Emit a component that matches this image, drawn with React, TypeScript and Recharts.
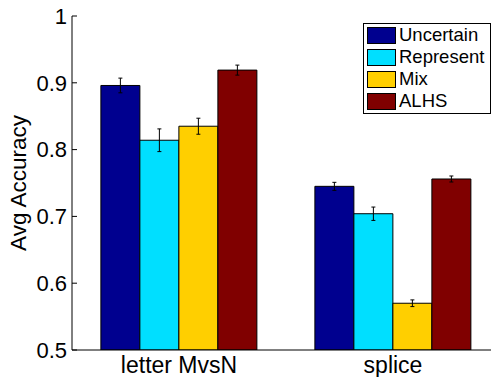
import React from "react";
import {
  BarChart, Bar, XAxis, YAxis, ErrorBar, Legend,
} from "recharts";

// values
const categories = ["letter MvsN", "splice"];
const seriesNames = ["Uncertain", "Represent", "Mix", "ALHS"];
const seriesColors = ["#00008F", "#00DFFF", "#FFCF00", "#800000"];

const uncertain = [0.896, 0.745];
const uncertainErr = [0.011, 0.006];
const represent = [0.814, 0.704];
const representErr = [0.017, 0.01];
const mix = [0.835, 0.57];
const mixErr = [0.012, 0.005];
const alhs = [0.919, 0.756];
const alhsErr = [0.0075, 0.0045];

const yTicks = [0.5, 0.6, 0.7, 0.8, 0.9, 1];

const FONT = '"Liberation Sans", Arial, Helvetica, sans-serif';

const data = categories.map((name, i) => ({
  name,
  s0: uncertain[i], e0: uncertainErr[i],
  s1: represent[i], e1: representErr[i],
  s2: mix[i], e2: mixErr[i],
  s3: alhs[i], e3: alhsErr[i],
}));

// matlab style: label outside, tick line pointing into the plot
function LeftTick({ x, y, payload }: any) {
  return (
    <g>
      <line x1={x} y1={y} x2={x + 5} y2={y} stroke="#000" />
      <text x={x - 5} y={y} dy="0.355em" textAnchor="end" fontSize={22} fontFamily={FONT} fill="#000">
        {String(payload.value)}
      </text>
    </g>
  );
}

function NoTick() {
  return <g />;
}

function YLabel({ viewBox }: any) {
  const cy = viewBox.y + viewBox.height / 2;
  return (
    <text x={26} y={cy} transform={`rotate(-90, 26, ${cy})`} textAnchor="middle"
      fontSize={22.5} fontFamily={FONT} fill="#000">
      Avg Accuracy
    </text>
  );
}

function LegendBox({ payload }: any) {
  // keep the series order of the original (recharts hands it over reversed)
  const items = [...(payload || [])].sort(
    (a: any, b: any) => seriesNames.indexOf(a.value) - seriesNames.indexOf(b.value)
  );
  return (
    <div style={{
      border: "1px solid #000", background: "#fff", width: 128, boxSizing: "border-box",
      padding: "0 3px 1px 3px", fontFamily: FONT, color: "#000",
    }}>
      {items.map((p: any) => (
        <div key={p.value} style={{ display: "flex", alignItems: "center", height: 22 }}>
          <span style={{
            display: "inline-block", width: 29, height: 17, background: p.color,
            border: "1px solid #000", boxSizing: "border-box", marginRight: 3, flexShrink: 0,
          }} />
          <span style={{ fontSize: 18.5, lineHeight: "22px", whiteSpace: "nowrap" }}>{p.value}</span>
        </div>
      ))}
    </div>
  );
}

export default function App() {
  return (
    <div style={{ position: "absolute", left: 0, top: 0, width: 491, height: 377, overflow: "hidden", background: "#fff" }}>
      <BarChart width={500} height={377} data={data}
        margin={{ top: 16, right: 0, bottom: 0, left: 0 }}
        barCategoryGap="13.5%" barGap={0}>
        <XAxis dataKey="name" xAxisId="b" tickLine={false} axisLine={{ stroke: "#000" }}
          height={27} tickSize={0} tickMargin={7}
          tick={{ fontSize: 23, fontFamily: FONT, fill: "#000" }} />
        <XAxis dataKey="name" xAxisId="t" orientation="top" mirror height={0}
          axisLine={{ stroke: "#000" }} tickLine={{ stroke: "#000" }} tickSize={5} tick={<NoTick />} />
        <YAxis yAxisId="l" width={72} domain={[0.5, 1]} ticks={yTicks} allowDataOverflow
          axisLine={{ stroke: "#000" }} tickLine={false} tickSize={0} tickMargin={0}
          tick={<LeftTick />} label={<YLabel />} />
        <YAxis yAxisId="r" orientation="right" mirror width={6} domain={[0.5, 1]} ticks={yTicks}
          allowDataOverflow axisLine={{ stroke: "#000" }} tickLine={{ stroke: "#000" }} tickSize={5}
          tick={<NoTick />} />
        <Legend layout="horizontal" verticalAlign="middle" align="center"
          wrapperStyle={{ left: 363, top: 23, width: 128 }} content={<LegendBox />} />
        {seriesNames.map((n, i) => (
          <Bar key={n} name={n} dataKey={`s${i}`} xAxisId="b" yAxisId="l"
            fill={seriesColors[i]} stroke="#000" strokeWidth={1} isAnimationActive={false}>
            <ErrorBar dataKey={`e${i}`} width={2} stroke="#000" strokeWidth={1} direction="y" />
          </Bar>
        ))}
      </BarChart>
    </div>
  );
}
